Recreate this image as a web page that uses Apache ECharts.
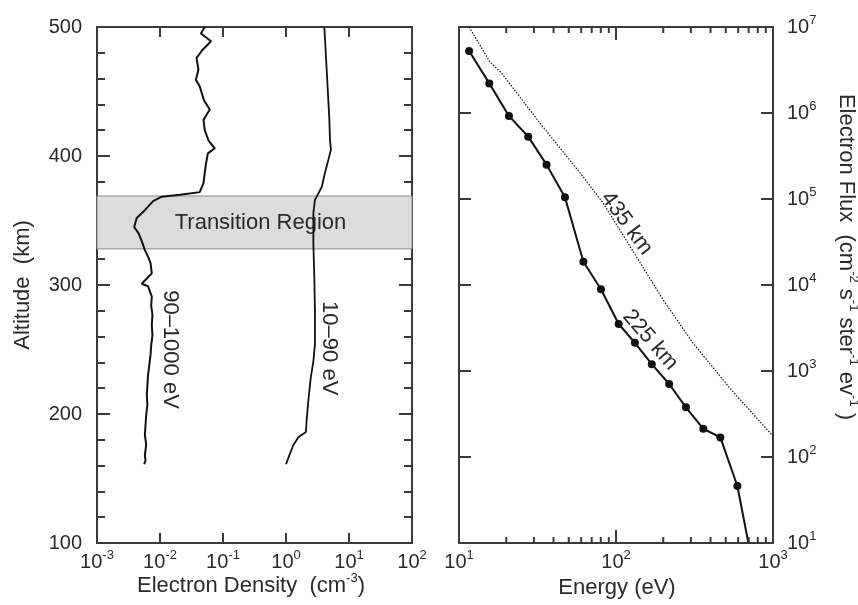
<!DOCTYPE html>
<html><head><meta charset="utf-8">
<script src="https://cdn.jsdelivr.net/npm/echarts@6/dist/echarts.min.js"></script>
<style>html,body{margin:0;padding:0;background:#fff}#c{width:858px;height:605px}</style>
</head><body><div id="c"></div>
<script>
// ---------- Data ----------
// Left panel: electron density profiles (altitude km vs density cm^-3)
const altHigh  = [500, 495, 489, 482, 476, 467, 459, 454, 443, 436, 428, 420, 412, 406, 402, 394, 387, 379, 372, 370, 368.5, 365, 358, 352, 345, 340, 334, 327, 322, 317, 309, 301, 299, 291, 284, 277, 269, 261, 253, 246, 238, 230, 222, 215, 207, 199, 191, 184, 176, 168, 164, 161];
const densHigh = [0.0513, 0.0447, 0.0646, 0.0468, 0.0380, 0.0407, 0.0372, 0.0427, 0.0501, 0.0617, 0.0490, 0.0513, 0.0589, 0.0741, 0.0575, 0.0537, 0.0513, 0.0490, 0.0427, 0.0209, 0.0107, 0.00776, 0.00575, 0.00427, 0.00389, 0.00457, 0.00513, 0.00575, 0.00646, 0.00708, 0.00741, 0.00513, 0.00646, 0.00741, 0.00724, 0.00759, 0.00741, 0.00759, 0.00724, 0.00708, 0.00676, 0.00646, 0.00631, 0.00617, 0.00631, 0.00603, 0.00589, 0.00575, 0.00603, 0.00575, 0.00589, 0.00562];
const altLow   = [500, 467, 428, 412, 405, 397, 387, 376, 366, 356, 335, 331, 305, 279, 254, 241, 228, 210, 197, 186, 182, 176, 168, 161];
const densLow  = [4.06, 4.42, 4.88, 4.99, 5.18, 4.70, 4.16, 3.69, 2.88, 2.72, 2.72, 2.72, 2.82, 2.88, 2.88, 2.72, 2.47, 2.26, 2.14, 2.07, 1.57, 1.31, 1.13, 1.00];
const transitionBand = [328, 369];   // km

// Right panel: electron flux spectra
const energy225 = [11.6, 15.6, 20.8, 27.6, 36.1, 47.3, 62, 80.2, 104, 132, 169, 218, 279, 360, 462, 593, 697];
const flux225   = [5.25e6, 2.21e6, 9.23e5, 5.31e5, 2.51e5, 1.05e5, 1.86e4, 8.91e3, 3.52e3, 2.13e3, 1.20e3, 706, 378, 213, 169, 46, 10];
const energy435 = [11.6, 15.7, 18.7, 32.8, 62, 83, 200, 310, 532, 1000];
const flux435   = [1e7, 3.95e6, 2.9e6, 7.6e5, 1.8e5, 8.9e4, 6.7e3, 2.1e3, 630, 175];
const minorTicksE = [20, 30, 40, 50, 60, 70, 80, 90, 200, 300, 400, 500, 600, 700, 800, 900];

// ---------- Styles ----------
const FONT = '"Liberation Sans", Arial, Helvetica, sans-serif';
const TXT = '#2a2a2a';
const AX = '#3a3a3a';
const LINE = '#111';

function powLabel(v) {
  const e = Math.round(Math.log10(v));
  return '{b|10}{s|' + e + '}';
}
const tickRich = {
  b: { fontSize: 20, fontFamily: FONT, color: TXT, lineHeight: 26 },
  s: { fontSize: 13, fontFamily: FONT, color: TXT, verticalAlign: 'top', lineHeight: 10 }
};
function axisBase(extra) {
  return Object.assign({
    axisLine: { onZero: false, lineStyle: { color: AX, width: 2 } },
    splitLine: { show: false },
    minorSplitLine: { show: false }
  }, extra);
}
const tickStyle = { color: AX, width: 2 };
const supRich = {
  a: { fontSize: 22, fontFamily: FONT, fill: TXT, color: TXT, lineHeight: 28 },
  s: { fontSize: 13, fontFamily: FONT, fill: TXT, color: TXT, verticalAlign: 'top', lineHeight: 10 }
};

const chart = echarts.init(document.getElementById('c'), null, { renderer: 'canvas' });

const option = {
  animation: false,
  backgroundColor: '#fff',
  grid: [
    { left: 97, top: 27, width: 315, height: 516 },
    { left: 459, top: 27, width: 314, height: 516 }
  ],
  xAxis: [
    axisBase({ gridIndex: 0, type: 'log', logBase: 10, position: 'bottom', min: 0.001, max: 100,
      axisTick: { inside: true, length: 10, lineStyle: tickStyle },
      axisLabel: { formatter: powLabel, rich: tickRich, margin: 6 } }),
    axisBase({ gridIndex: 0, type: 'log', logBase: 10, position: 'top', min: 0.001, max: 100,
      axisTick: { inside: true, length: 10, lineStyle: tickStyle },
      axisLabel: { show: false } }),
    axisBase({ gridIndex: 1, type: 'log', logBase: 10, position: 'bottom', min: 10, max: 1000,
      axisTick: { inside: true, length: 13, lineStyle: tickStyle },
      axisLabel: { formatter: powLabel, rich: tickRich, margin: 6 } }),
    axisBase({ gridIndex: 1, type: 'log', logBase: 10, position: 'top', min: 10, max: 1000,
      axisTick: { inside: true, length: 13, lineStyle: tickStyle },
      axisLabel: { show: false } })
  ],
  yAxis: [
    axisBase({ gridIndex: 0, type: 'value', position: 'left', min: 100, max: 500, interval: 100,
      axisTick: { inside: true, length: 13, lineStyle: tickStyle },
      minorTick: { show: true, splitNumber: 5, length: 8, lineStyle: tickStyle },
      axisLabel: { fontSize: 20, fontFamily: FONT, color: TXT, margin: 15 } }),
    axisBase({ gridIndex: 0, type: 'value', position: 'right', min: 100, max: 500, interval: 100,
      axisTick: { inside: true, length: 13, lineStyle: tickStyle },
      minorTick: { show: true, splitNumber: 5, length: 8, lineStyle: tickStyle },
      axisLabel: { show: false } }),
    axisBase({ gridIndex: 1, type: 'log', logBase: 10, position: 'right', min: 10, max: 1e7,
      axisTick: { inside: true, length: 12, lineStyle: tickStyle },
      axisLabel: { formatter: powLabel, rich: tickRich, margin: 14 } }),
    axisBase({ gridIndex: 1, type: 'log', logBase: 10, position: 'left', min: 10, max: 1e7,
      axisTick: { inside: true, length: 12, lineStyle: tickStyle },
      axisLabel: { show: false } })
  ],
  series: [
    { // transition region band
      type: 'line', xAxisIndex: 0, yAxisIndex: 0, data: [], z: 1, silent: true,
      markArea: {
        silent: true,
        itemStyle: { color: '#dcdcdc', borderColor: '#8a8a8a', borderWidth: 1 },
        label: { show: true, position: 'inside', offset: [6, 1], fontSize: 22, fontFamily: FONT, color: TXT },
        data: [[{ name: 'Transition Region', yAxis: transitionBand[0] }, { yAxis: transitionBand[1] }]]
      }
    },
    {
      name: '90–1000 eV', type: 'line', xAxisIndex: 0, yAxisIndex: 0, z: 3,
      showSymbol: false, lineStyle: { color: LINE, width: 2 },
      data: densHigh.map((d, i) => [d, altHigh[i]])
    },
    {
      name: '10–90 eV', type: 'line', xAxisIndex: 0, yAxisIndex: 0, z: 3,
      showSymbol: false, lineStyle: { color: LINE, width: 1.8 },
      data: densLow.map((d, i) => [d, altLow[i]])
    },
    { // curve labels, left panel
      type: 'scatter', xAxisIndex: 0, yAxisIndex: 0, symbolSize: 0, z: 4, silent: true,
      itemStyle: { opacity: 1 },
      label: { show: true, position: 'inside', formatter: p => p.name, fontSize: 22, fontFamily: FONT, color: TXT, opacity: 1, rotate: -90 },
      data: [
        { name: '90–1000 eV', value: [0.0144, 250] },
        { name: '10–90 eV', value: [4.8, 251] }
      ]
    },
    {
      name: '225 km', type: 'line', xAxisIndex: 2, yAxisIndex: 2, z: 3,
      symbol: 'circle', symbolSize: 8, itemStyle: { color: LINE },
      lineStyle: { color: LINE, width: 2 },
      data: energy225.map((e, i) => i === energy225.length - 1
        ? { value: [e, flux225[i]], symbol: 'none' }
        : [e, flux225[i]])
    },
    {
      name: '435 km', type: 'line', xAxisIndex: 2, yAxisIndex: 2, z: 3,
      showSymbol: false, lineStyle: { color: LINE, width: 1.2, type: [1.5, 1.5] },
      data: energy435.map((e, i) => [e, flux435[i]])
    },
    { // log minor ticks on the energy axis (top and bottom)
      type: 'custom', xAxisIndex: 2, yAxisIndex: 2, silent: true, clip: false, z: 5,
      data: minorTicksE.map(v => [v]),
      renderItem: (params, api) => {
        const v = api.value(0);
        const pb = api.coord([v, 10]);
        const pt = api.coord([v, 1e7]);
        const st = { stroke: AX, lineWidth: 2 };
        return { type: 'group', children: [
          { type: 'line', shape: { x1: pb[0], y1: pb[1], x2: pb[0], y2: pb[1] - 6 }, style: st },
          { type: 'line', shape: { x1: pt[0], y1: pt[1], x2: pt[0], y2: pt[1] + 6 }, style: st }
        ]};
      }
    },
    { // curve labels, right panel
      type: 'scatter', xAxisIndex: 2, yAxisIndex: 2, symbolSize: 0, z: 4, silent: true,
      itemStyle: { opacity: 1 },
      label: { show: true, position: 'inside', formatter: p => p.name, fontSize: 22, fontFamily: FONT, color: TXT, opacity: 1 },
      data: [
        { name: '435 km', value: [117, 5.2e4], label: { rotate: -54 } },
        { name: '225 km', value: [165, 2.3e3], label: { rotate: -49 } }
      ]
    }
  ],
  graphic: [
    { type: 'text', x: 23, y: 285, rotation: Math.PI / 2,
      style: { text: 'Altitude  (km)', fontSize: 22, fontFamily: FONT, fill: TXT, align: 'center', verticalAlign: 'middle' } },
    { type: 'text', x: 251, y: 586,
      style: { text: '{a|Electron Density  (cm}{s|-3}{a|)}', align: 'center', verticalAlign: 'middle', rich: supRich } },
    { type: 'text', x: 617, y: 588,
      style: { text: 'Energy (eV)', fontSize: 22, fontFamily: FONT, fill: TXT, align: 'center', verticalAlign: 'middle' } },
    { type: 'text', x: 846, y: 257, rotation: -Math.PI / 2,
      style: { text: '{a|Electron Flux  (cm}{s|-2}{a| s}{s|-1}{a| ster}{s|-1}{a| ev}{s|-1}{a| )}', align: 'center', verticalAlign: 'middle', rich: supRich } }
  ]
};
chart.setOption(option);
</script>
</body></html>
